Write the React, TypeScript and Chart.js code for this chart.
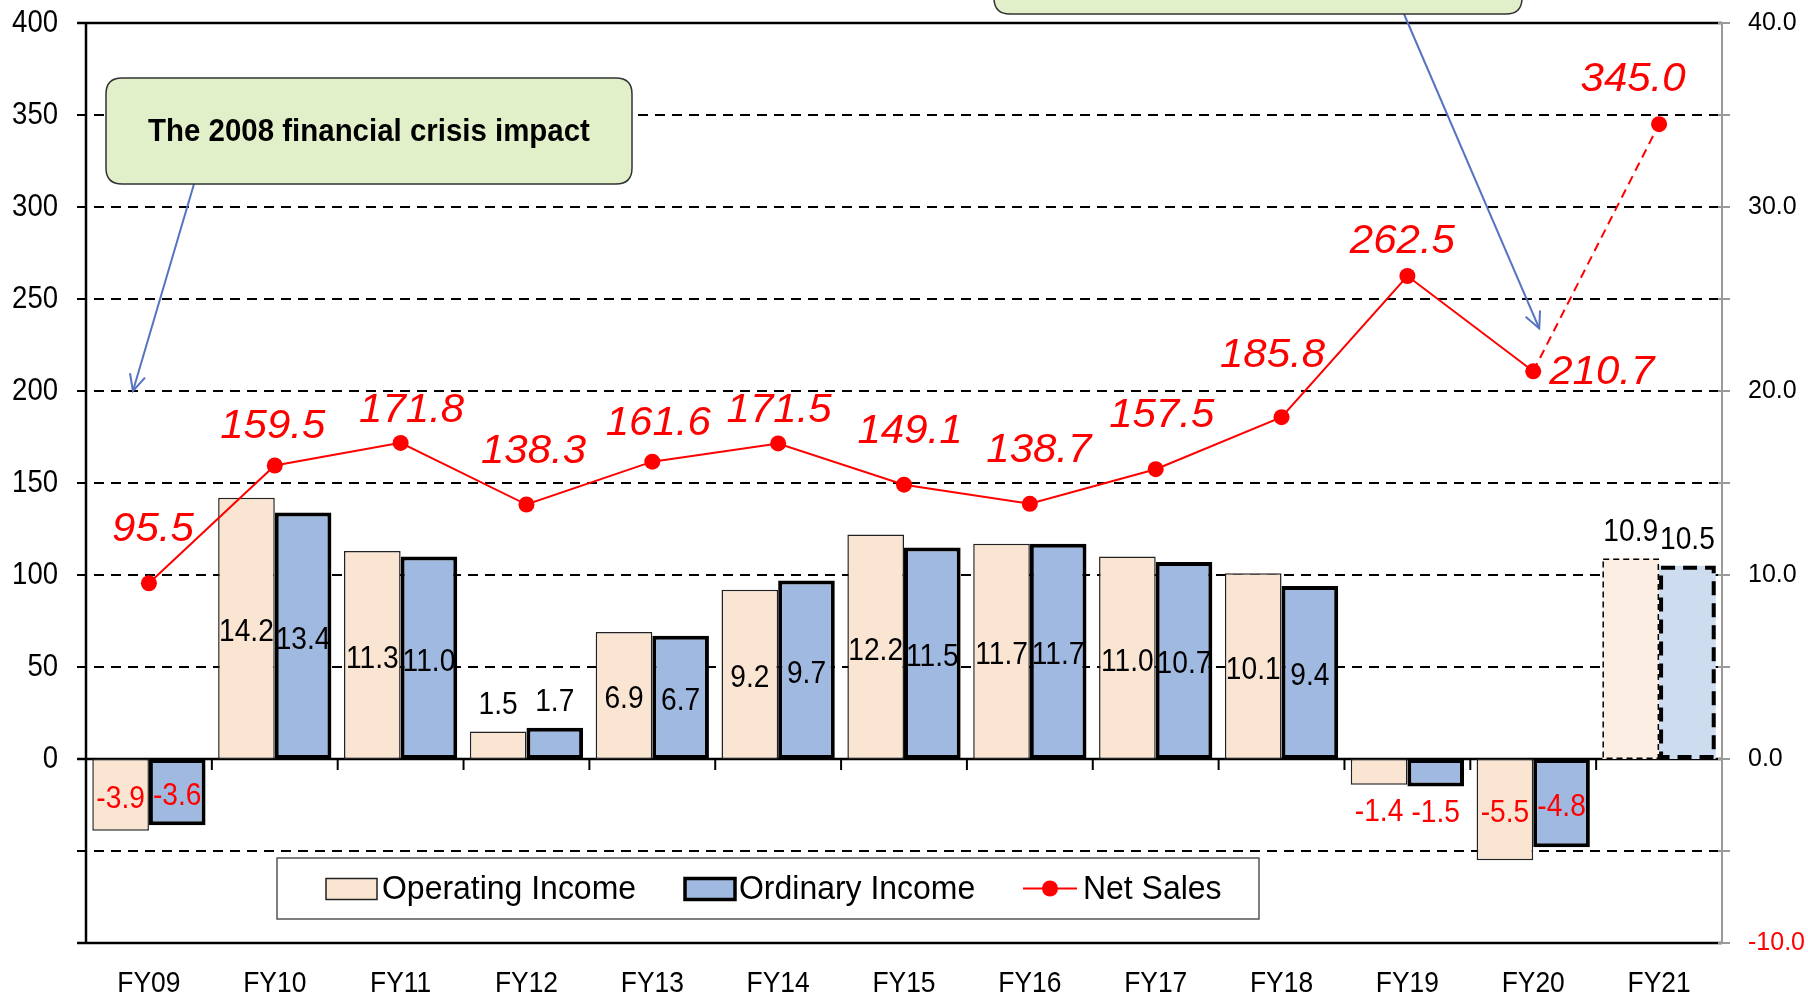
import React, { useEffect, useRef } from 'react';
import { Chart, registerables } from 'chart.js';

Chart.register(...registerables);

const categories = ['FY09', 'FY10', 'FY11', 'FY12', 'FY13', 'FY14', 'FY15', 'FY16', 'FY17', 'FY18', 'FY19', 'FY20', 'FY21'];
const operatingIncome = [-3.9, 14.2, 11.3, 1.5, 6.9, 9.2, 12.2, 11.7, 11.0, 10.1, -1.4, -5.5, 10.9];
const ordinaryIncome = [-3.6, 13.4, 11.0, 1.7, 6.7, 9.7, 11.5, 11.7, 10.7, 9.4, -1.5, -4.8, 10.5];
const netSales = [95.5, 159.5, 171.8, 138.3, 161.6, 171.5, 149.1, 138.7, 157.5, 185.8, 262.5, 210.7, 345.0];
const seriesNames = ['Operating Income', 'Ordinary Income', 'Net Sales'];
const crisisNote = 'The 2008 financial crisis impact';
const FORECAST_INDEX = 12;

const FONT = '"Liberation Sans", Arial, sans-serif';
const OP_FILL = '#FAE5D3';
const OP_FILL_FC = '#FCEEE2';
const ORD_FILL = '#A0B9E0';
const ORD_FILL_FC = '#CEDCEF';
const RED = '#FF0000';
const ARROW = '#5573C0';

// hand-placed label nudges (pixels) for the Net Sales data labels, as in the source chart
const SALES_LABEL_NUDGE: [number, number][] = [
  [4, -53], [-2, -39], [11, -32], [7, -53], [6, -38], [1, -33], [6, -53],
  [9, -53], [6, -53], [-9, -61], [-5, -34], [16, 2], [-26, -44],
];

function roundRect(ctx: CanvasRenderingContext2D, x: number, y: number, w: number, h: number, r: number) {
  ctx.beginPath();
  ctx.moveTo(x + r, y);
  ctx.lineTo(x + w - r, y);
  ctx.quadraticCurveTo(x + w, y, x + w, y + r);
  ctx.lineTo(x + w, y + h - r);
  ctx.quadraticCurveTo(x + w, y + h, x + w - r, y + h);
  ctx.lineTo(x + r, y + h);
  ctx.quadraticCurveTo(x, y + h, x, y + h - r);
  ctx.lineTo(x, y + r);
  ctx.quadraticCurveTo(x, y, x + r, y);
  ctx.closePath();
}

function drawArrow(ctx: CanvasRenderingContext2D, x1: number, y1: number, x2: number, y2: number) {
  ctx.save();
  ctx.strokeStyle = ARROW;
  ctx.lineWidth = 2;
  ctx.setLineDash([]);
  ctx.beginPath();
  ctx.moveTo(x1, y1);
  ctx.lineTo(x2, y2);
  ctx.stroke();
  const ang = Math.atan2(y2 - y1, x2 - x1);
  const len = 18;
  ctx.beginPath();
  ctx.moveTo(x2 - len * Math.cos(ang - 0.45), y2 - len * Math.sin(ang - 0.45));
  ctx.lineTo(x2, y2);
  ctx.lineTo(x2 - len * Math.cos(ang + 0.45), y2 - len * Math.sin(ang + 0.45));
  ctx.stroke();
  ctx.restore();
}

function scaledText(
  ctx: CanvasRenderingContext2D,
  txt: string,
  x: number,
  y: number,
  font: string,
  sx: number,
  align: CanvasTextAlign,
  baseline: CanvasTextBaseline,
  color: string
) {
  ctx.save();
  ctx.translate(x, y);
  ctx.scale(sx, 1);
  ctx.font = font;
  ctx.textAlign = align;
  ctx.textBaseline = baseline;
  ctx.fillStyle = color;
  ctx.fillText(txt, 0, 0);
  ctx.restore();
}

const customPlugin = {
  id: 'customDraw',
  beforeDatasetsDraw(chart: any) {
    const { ctx, chartArea: a, scales } = chart;
    const y = scales.y;
    const y1 = scales.y1;
    const x = scales.x;
    ctx.save();
    for (let v = -100; v <= 400; v += 50) {
      const py = y.getPixelForValue(v);
      const solid = v === 400 || v === -100 || v === 0;
      ctx.setLineDash(solid ? [] : [10, 7]);
      ctx.lineWidth = solid ? 2.5 : 2;
      ctx.strokeStyle = '#000';
      ctx.beginPath();
      ctx.moveTo(a.left - 9, py);
      ctx.lineTo(a.right, py);
      ctx.stroke();
    }
    ctx.setLineDash([]);
    const zero = y.getPixelForValue(0);
    const n = categories.length;
    const cw = (x.right - x.left) / n;
    ctx.lineWidth = 2;
    ctx.strokeStyle = '#000';
    for (let i = 1; i <= n; i++) {
      const px = x.left + i * cw;
      ctx.beginPath();
      ctx.moveTo(px, zero);
      ctx.lineTo(px, zero + 11);
      ctx.stroke();
    }
    ctx.lineWidth = 2.5;
    ctx.beginPath();
    ctx.moveTo(a.left, a.top);
    ctx.lineTo(a.left, a.bottom);
    ctx.stroke();
    ctx.strokeStyle = '#9A9A9A';
    ctx.lineWidth = 2;
    ctx.beginPath();
    ctx.moveTo(a.right, a.top);
    ctx.lineTo(a.right, a.bottom);
    ctx.stroke();
    for (let v = -10; v <= 40; v += 5) {
      const py = y1.getPixelForValue(v);
      ctx.beginPath();
      ctx.moveTo(a.right - 4, py);
      ctx.lineTo(a.right + 8, py);
      ctx.stroke();
    }
    ctx.restore();
  },
  afterDatasetsDraw(chart: any) {
    const { ctx } = chart;
    const opMeta = chart.getDatasetMeta(0);
    const ordMeta = chart.getDatasetMeta(1);
    const lineMeta = chart.getDatasetMeta(2);
    ctx.save();
    const outline = (el: any, dash: number[], lw: number) => {
      const p = el.getProps(['x', 'y', 'base', 'width'], true);
      const l = p.x - p.width / 2;
      const top = Math.min(p.y, p.base);
      const h = Math.abs(p.base - p.y);
      ctx.save();
      ctx.setLineDash(dash);
      ctx.lineWidth = lw;
      ctx.strokeStyle = '#000';
      ctx.strokeRect(l + lw / 2, top + lw / 2, p.width - lw, h - lw);
      ctx.restore();
    };
    outline(opMeta.data[FORECAST_INDEX], [6, 4], 1.5);
    outline(ordMeta.data[FORECAST_INDEX], [14, 8], 4);

    const barFont = `32px ${FONT}`;
    const barLabels = (meta: any, values: number[]) => {
      meta.data.forEach((el: any, i: number) => {
        const v = values[i];
        const p = el.getProps(['x', 'y', 'base'], true);
        const txt = v.toFixed(1);
        const color = v < 0 ? RED : '#000';
        const outside = Math.abs(v) < 3 || i === FORECAST_INDEX;
        if (!outside) {
          scaledText(ctx, txt, p.x, (p.y + p.base) / 2 + 4, barFont, 0.88, 'center', 'middle', color);
        } else if (v >= 0) {
          scaledText(ctx, txt, p.x, p.y - 17, barFont, 0.88, 'center', 'alphabetic', color);
        } else {
          scaledText(ctx, txt, p.x, p.y + 27, barFont, 0.88, 'center', 'middle', color);
        }
      });
    };
    barLabels(opMeta, operatingIncome);
    barLabels(ordMeta, ordinaryIncome);

    const salesFont = `italic 40px ${FONT}`;
    lineMeta.data.forEach((el: any, i: number) => {
      const p = el.getProps(['x', 'y'], true);
      const txt = netSales[i].toFixed(1);
      const [dx, dy] = SALES_LABEL_NUDGE[i] || [0, -45];
      const align: CanvasTextAlign = i === FORECAST_INDEX - 1 ? 'left' : 'center';
      scaledText(ctx, txt, p.x + dx, p.y + dy, salesFont, 1.05, align, 'middle', RED);
    });
    ctx.restore();
  },
  afterDraw(chart: any) {
    const { ctx, chartArea: a, scales } = chart;
    const y = scales.y;
    const x = scales.x;
    ctx.save();

    y.ticks.forEach((t: any) => {
      if (t.value < 0) return;
      scaledText(ctx, String(t.value), a.left - 28, y.getPixelForValue(t.value), `32px ${FONT}`, 0.86, 'right', 'middle', '#000');
    });
    categories.forEach((c, i) => {
      scaledText(ctx, c, x.getPixelForValue(i), a.bottom + 41, `30px ${FONT}`, 0.88, 'center', 'middle', '#000');
    });

    const b1x = a.left + 20, b1y = a.top + 55, b1w = 526, b1h = 106;
    drawArrow(ctx, b1x + 88, b1y + b1h, x.getPixelForValue(0) - 16, y.getPixelForValue(200));
    roundRect(ctx, b1x, b1y, b1w, b1h, 16);
    ctx.fillStyle = '#E2F0C9';
    ctx.fill();
    ctx.strokeStyle = '#333';
    ctx.lineWidth = 1.5;
    ctx.stroke();
    scaledText(ctx, crisisNote, b1x + b1w / 2, b1y + b1h / 2 + 1, `bold 32px ${FONT}`, 0.92, 'center', 'middle', '#000');

    const b2x = 994, b2w = 528, b2h = 106, b2y = a.top - 9 - b2h;
    drawArrow(ctx, b2x + 410, b2y + b2h, x.getPixelForValue(11) + 6, y.getPixelForValue(234));
    roundRect(ctx, b2x, b2y, b2w, b2h, 16);
    ctx.fillStyle = '#E2F0C9';
    ctx.fill();
    ctx.strokeStyle = '#333';
    ctx.lineWidth = 1.5;
    ctx.stroke();

    const lx = 277, ly = 858, lw = 982, lh = 61;
    ctx.fillStyle = '#fff';
    ctx.fillRect(lx, ly, lw, lh);
    ctx.strokeStyle = '#555';
    ctx.lineWidth = 1.5;
    ctx.strokeRect(lx, ly, lw, lh);
    const cy = ly + lh / 2;
    const legendFont = `34px ${FONT}`;
    ctx.fillStyle = OP_FILL;
    ctx.fillRect(326, cy - 10, 51, 21);
    ctx.strokeStyle = '#222';
    ctx.lineWidth = 1.5;
    ctx.strokeRect(326, cy - 10, 51, 21);
    scaledText(ctx, seriesNames[0], 382, cy + 1, legendFont, 0.94, 'left', 'middle', '#000');
    ctx.fillStyle = ORD_FILL;
    ctx.fillRect(685, cy - 10, 50, 21);
    ctx.strokeStyle = '#000';
    ctx.lineWidth = 3.5;
    ctx.strokeRect(685, cy - 10, 50, 21);
    scaledText(ctx, seriesNames[1], 739, cy + 1, legendFont, 0.94, 'left', 'middle', '#000');
    ctx.strokeStyle = RED;
    ctx.lineWidth = 2;
    ctx.beginPath();
    ctx.moveTo(1023, cy);
    ctx.lineTo(1077, cy);
    ctx.stroke();
    ctx.fillStyle = RED;
    ctx.beginPath();
    ctx.arc(1050, cy, 8, 0, Math.PI * 2);
    ctx.fill();
    scaledText(ctx, seriesNames[2], 1083, cy + 1, legendFont, 0.94, 'left', 'middle', '#000');
    ctx.restore();
  },
};

export default function App() {
  const canvasRef = useRef<HTMLCanvasElement | null>(null);

  useEffect(() => {
    document.body.style.margin = '0';
    const canvas = canvasRef.current;
    if (!canvas) return;

    const chart = new Chart(canvas, {
      type: 'bar',
      data: {
        labels: categories,
        datasets: [
          {
            type: 'bar',
            label: seriesNames[0],
            data: operatingIncome,
            yAxisID: 'y1',
            order: 2,
            backgroundColor: (c: any) => (c.dataIndex === FORECAST_INDEX ? OP_FILL_FC : OP_FILL),
            borderColor: '#222',
            borderWidth: (c: any) => (c.dataIndex === FORECAST_INDEX ? 0 : 1.5),
            borderSkipped: false,
            categoryPercentage: 0.9,
            barPercentage: 1.0,
          },
          {
            type: 'bar',
            label: seriesNames[1],
            data: ordinaryIncome,
            yAxisID: 'y1',
            order: 2,
            backgroundColor: (c: any) => (c.dataIndex === FORECAST_INDEX ? ORD_FILL_FC : ORD_FILL),
            borderColor: '#000',
            borderWidth: (c: any) => (c.dataIndex === FORECAST_INDEX ? 0 : 4),
            borderSkipped: false,
            categoryPercentage: 0.9,
            barPercentage: 1.0,
          },
          {
            type: 'line',
            label: seriesNames[2],
            data: netSales,
            yAxisID: 'y',
            order: 0,
            borderColor: RED,
            borderWidth: 2,
            backgroundColor: RED,
            pointRadius: 8,
            pointBackgroundColor: RED,
            pointBorderWidth: 0,
            tension: 0,
            segment: {
              borderDash: (c: any) => (c.p1DataIndex === FORECAST_INDEX ? [9, 6] : undefined),
            },
          },
        ] as any,
      },
      options: {
        responsive: false,
        maintainAspectRatio: false,
        devicePixelRatio: 1,
        animation: false,
        layout: { autoPadding: false, padding: { top: 23, left: 0, right: 0, bottom: 0 } },
        plugins: {
          legend: { display: false },
          tooltip: { enabled: false },
        },
        scales: {
          x: {
            type: 'category',
            offset: true,
            grid: { display: false, drawTicks: false },
            border: { display: false },
            ticks: { display: false, autoSkip: false },
            afterFit: (s: any) => {
              s.height = 52;
              s.paddingLeft = 0;
              s.paddingRight = 0;
            },
          },
          y: {
            position: 'left',
            min: -100,
            max: 400,
            grid: { display: false, drawTicks: false },
            border: { display: false },
            ticks: { display: false, stepSize: 50 },
            afterFit: (s: any) => {
              s.width = 86;
              s.paddingTop = 0;
              s.paddingBottom = 0;
            },
          },
          y1: {
            position: 'right',
            min: -10,
            max: 40,
            grid: { display: false, drawTicks: false },
            border: { display: false },
            ticks: {
              stepSize: 10,
              color: (c: any) => (c.tick && c.tick.value < 0 ? RED : '#000'),
              font: { family: FONT, size: 25 },
              padding: 26,
              callback: (v: any) => Number(v).toFixed(1),
            },
            afterFit: (s: any) => {
              s.width = 86;
              s.paddingTop = 0;
              s.paddingBottom = 0;
            },
          },
        },
      } as any,
      plugins: [customPlugin],
    });
    const diff = 23 - chart.chartArea.top;
    if (Math.abs(diff) > 0.5) {
      const pad = (chart.options.layout as any).padding;
      pad.top = Math.max(0, pad.top + diff);
      chart.update();
    }
    return () => chart.destroy();
  }, []);

  return (
    <div style={{ width: 1808, height: 995, position: 'relative' }}>
      <canvas ref={canvasRef} width={1808} height={995} style={{ display: 'block', width: 1808, height: 995 }} />
    </div>
  );
}
